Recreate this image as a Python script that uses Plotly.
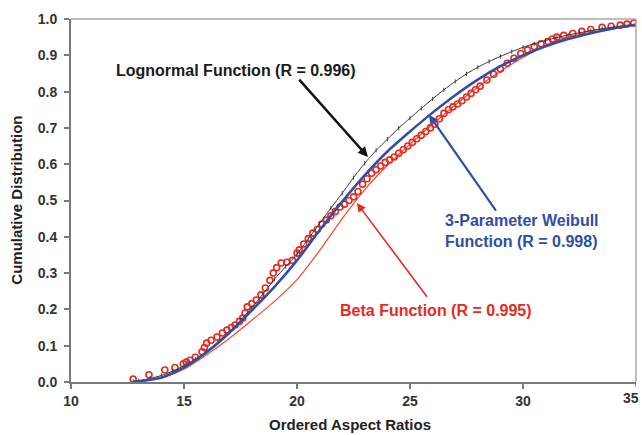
import plotly.graph_objects as go

# Experimental ordered aspect ratios (red open markers)
data_x = [12.75, 13.45, 14.15, 14.6, 14.97, 15.1, 15.27, 15.5, 15.8, 15.9, 16.0, 16.2, 16.46, 16.7,
          16.9, 17.1, 17.26, 17.45, 17.6, 17.7, 17.8, 18.0, 18.2, 18.4, 18.6, 18.8, 18.95, 19.1,
          19.3, 19.55, 19.8, 20.0, 20.1, 20.3, 20.5, 20.7, 20.9, 21.1, 21.3, 21.5, 21.7, 21.9,
          22.1, 22.3, 22.5, 22.7, 22.9, 23.1, 23.3, 23.5, 23.7, 23.9, 24.1, 24.3, 24.5, 24.7,
          24.9, 25.1, 25.3, 25.5, 25.7, 25.9, 26.1, 26.3, 26.5, 26.7, 26.9, 27.1, 27.3, 27.5,
          27.7, 27.9, 28.1, 28.4, 28.7, 29.0, 29.3, 29.6, 29.9, 30.2, 30.5, 30.8, 31.1, 31.3,
          31.5, 31.8, 32.2, 32.6, 33.0, 33.5, 33.9, 34.3, 34.6, 34.9]
data_y = [0.008, 0.02, 0.033, 0.04, 0.05, 0.055, 0.06, 0.068, 0.083, 0.095, 0.107, 0.115, 0.124, 0.135,
          0.143, 0.15, 0.157, 0.167, 0.176, 0.19, 0.207, 0.216, 0.226, 0.24, 0.259, 0.28, 0.30, 0.315,
          0.328, 0.33, 0.335, 0.355, 0.364, 0.38, 0.395, 0.41, 0.42, 0.435, 0.446, 0.458, 0.47, 0.482,
          0.49, 0.50, 0.51, 0.525, 0.545, 0.56, 0.575, 0.585, 0.595, 0.605, 0.612, 0.62, 0.63, 0.64,
          0.65, 0.66, 0.67, 0.68, 0.69, 0.70, 0.71, 0.725, 0.74, 0.75, 0.758, 0.766, 0.775, 0.785,
          0.795, 0.805, 0.815, 0.832, 0.848, 0.862, 0.878, 0.892, 0.905, 0.915, 0.924, 0.932, 0.938, 0.945,
          0.95, 0.955, 0.96, 0.966, 0.971, 0.977, 0.98, 0.983, 0.986, 0.989]

# Lognormal fit (black)
logn_x = [12.75, 13.0, 13.5, 14.0, 14.5, 15.0, 15.5, 16.0, 16.5, 17.0, 17.5, 18.0, 18.5, 19.0, 19.5,
          20.0, 20.5, 21.0, 21.5, 22.0, 22.5, 23.0, 23.5, 24.0, 24.5, 25.0, 25.5, 26.0, 26.5, 27.0,
          27.5, 28.0, 28.5, 29.0, 29.5, 30.0, 30.5, 31.0, 31.5, 32.0, 32.5, 33.0, 33.5, 34.0, 34.5, 35.0]
logn_y = [0.002, 0.004, 0.01, 0.018, 0.03, 0.045, 0.063, 0.085, 0.11, 0.138, 0.17, 0.205, 0.243, 0.283, 0.318,
          0.352, 0.394, 0.437, 0.479, 0.52, 0.563, 0.603, 0.638, 0.669, 0.699, 0.727, 0.754, 0.78, 0.805, 0.828,
          0.849, 0.867, 0.883, 0.897, 0.91, 0.922, 0.932, 0.941, 0.949, 0.956, 0.962, 0.968, 0.973, 0.977, 0.981, 0.985]

# 3-parameter Weibull fit (blue)
weib_x = [12.75, 13.0, 14.0, 15.0, 16.0, 17.0, 18.0, 19.0, 20.0, 21.0, 22.0, 23.0, 24.0, 25.0,
          26.0, 27.0, 28.0, 29.0, 30.0, 31.0, 32.0, 33.0, 34.0, 35.0]
weib_y = [0.0, 0.002, 0.012, 0.04, 0.082, 0.135, 0.197, 0.262, 0.335, 0.418, 0.497, 0.57, 0.635, 0.69,
          0.742, 0.79, 0.833, 0.87, 0.9, 0.925, 0.945, 0.961, 0.974, 0.984]

# Beta fit (thin red)
beta_x = [13.0, 14.0, 15.0, 16.0, 17.0, 18.0, 19.0, 20.0, 21.0, 22.0, 23.0, 24.0, 25.0, 26.0,
          27.0, 28.0, 29.0, 30.0, 31.0, 32.0, 33.0, 34.0, 35.0]
beta_y = [0.0, 0.01, 0.035, 0.075, 0.12, 0.17, 0.222, 0.282, 0.362, 0.45, 0.53, 0.597, 0.655, 0.71,
          0.763, 0.812, 0.856, 0.894, 0.926, 0.95, 0.967, 0.978, 0.986]

x_ticks = [10, 15, 20, 25, 30]
y_ticks = [0.0, 0.1, 0.2, 0.3, 0.4, 0.5, 0.6, 0.7, 0.8, 0.9, 1.0]
x_last_tick = 35

RED = "#e8291f"
BLUE = "#2f4ea6"
FONT = "Liberation Sans"
TICKC = "#333333"

fig = go.Figure()
fig.add_trace(go.Scatter(x=beta_x, y=beta_y, mode="lines", line=dict(color="#ee4a30", width=1.2),
                         line_shape="spline", line_smoothing=0.6, name="Beta"))
fig.add_trace(go.Scatter(x=data_x, y=data_y, mode="markers", name="Data",
                         marker=dict(symbol="circle-open", size=6, color=RED, line=dict(width=1.6, color=RED))))
fig.add_trace(go.Scatter(x=logn_x, y=logn_y, mode="lines+markers", line=dict(color="#3a3a3a", width=1),
                         line_shape="spline", line_smoothing=0.6,
                         marker=dict(symbol="line-ns", size=3, line=dict(width=1, color="#3a3a3a")),
                         name="Lognormal"))
fig.add_trace(go.Scatter(x=weib_x, y=weib_y, mode="lines", line=dict(color=BLUE, width=2.5),
                         line_shape="spline", line_smoothing=0.6, name="Weibull"))

ann = []
# arrows
ann.append(dict(x=23.14, y=0.62, ax=20.04, ay=0.837, axref="x", ayref="y", xref="x", yref="y", text="",
                showarrow=True, arrowhead=2, arrowsize=0.8, arrowwidth=2.5, arrowcolor="#111111"))
ann.append(dict(x=25.84, y=0.736, ax=28.85, ay=0.468, axref="x", ayref="y", xref="x", yref="y", text="",
                showarrow=True, arrowhead=2, arrowsize=0.8, arrowwidth=2.2, arrowcolor=BLUE))
ann.append(dict(x=22.65, y=0.493, ax=25.8, ay=0.231, axref="x", ayref="y", xref="x", yref="y", text="",
                showarrow=True, arrowhead=2, arrowsize=1.1, arrowwidth=1.6, arrowcolor=RED))
# labels
ann.append(dict(x=17.3, y=0.857, xref="x", yref="y", text="<b>Lognormal Function (R = 0.996)</b>",
                xanchor="center", showarrow=False, font=dict(family=FONT, size=16, color="#1a1a1a")))
ann.append(dict(x=26.46, y=0.446, xref="x", yref="y", text="<b>3-Parameter Weibull</b>", xanchor="left",
                showarrow=False, font=dict(family=FONT, size=16, color=BLUE)))
ann.append(dict(x=26.46, y=0.388, xref="x", yref="y", text="<b>Function (R = 0.998)</b>", xanchor="left",
                showarrow=False, font=dict(family=FONT, size=16, color=BLUE)))
ann.append(dict(x=26.17, y=0.198, xref="x", yref="y", text="<b>Beta Function (R = 0.995)</b>",
                xanchor="center", showarrow=False, font=dict(family=FONT, size=16, color=RED)))
# last x tick label, kept inside the right edge
ann.append(dict(x=x_last_tick, y=-0.043, xref="x", yref="paper", text=f"<b>{x_last_tick}</b>",
                xanchor="right", yanchor="middle", xshift=5, showarrow=False,
                font=dict(family=FONT, size=14, color=TICKC)))
# axis titles
ann.append(dict(x=0.494, y=-0.116, xref="paper", yref="paper", text="<b>Ordered Aspect Ratios</b>",
                xanchor="center", yanchor="middle", showarrow=False, font=dict(family=FONT, size=15, color="#222222")))
ann.append(dict(x=-0.097, y=0.5, xref="paper", yref="paper", text="<b>Cumulative Distribution</b>",
                xanchor="center", yanchor="middle", textangle=-90, showarrow=False,
                font=dict(family=FONT, size=15, color="#222222")))

fig.update_layout(
    width=642, height=435,
    margin=dict(l=71, r=6, t=19, b=53),
    paper_bgcolor="white", plot_bgcolor="white",
    showlegend=False,
    annotations=ann,
    shapes=[dict(type="line", xref="paper", yref="paper", x0=0, x1=1, y0=1, y1=1,
                 line=dict(color="#a8a8a8", width=1.5)),
            dict(type="line", xref="paper", yref="paper", x0=1, x1=1, y0=0, y1=1,
                 line=dict(color="#a8a8a8", width=1.5)),
            dict(type="line", xref="x", yref="paper", x0=x_last_tick, x1=x_last_tick, y0=0, y1=-0.014,
                 line=dict(color="#7a7a7a", width=1.5))],
)
fig.update_xaxes(range=[10, 35], tickvals=x_ticks, ticktext=[f"<b>{v}</b>" for v in x_ticks],
                 showgrid=False, zeroline=False, showline=True, linecolor="#7a7a7a", linewidth=2,
                 ticks="outside", ticklen=5, tickcolor="#7a7a7a", tickwidth=1.5,
                 tickfont=dict(family=FONT, size=14, color=TICKC))
fig.update_yaxes(range=[0, 1], tickvals=y_ticks, ticktext=[f"<b>{v:.1f}</b>" for v in y_ticks],
                 showgrid=False, zeroline=False, showline=True, linecolor="#7a7a7a", linewidth=2,
                 ticks="outside", ticklen=5, tickcolor="#7a7a7a", tickwidth=1.5, ticklabelstandoff=4,
                 tickfont=dict(family=FONT, size=14, color=TICKC))

fig.write_html("out.html")
